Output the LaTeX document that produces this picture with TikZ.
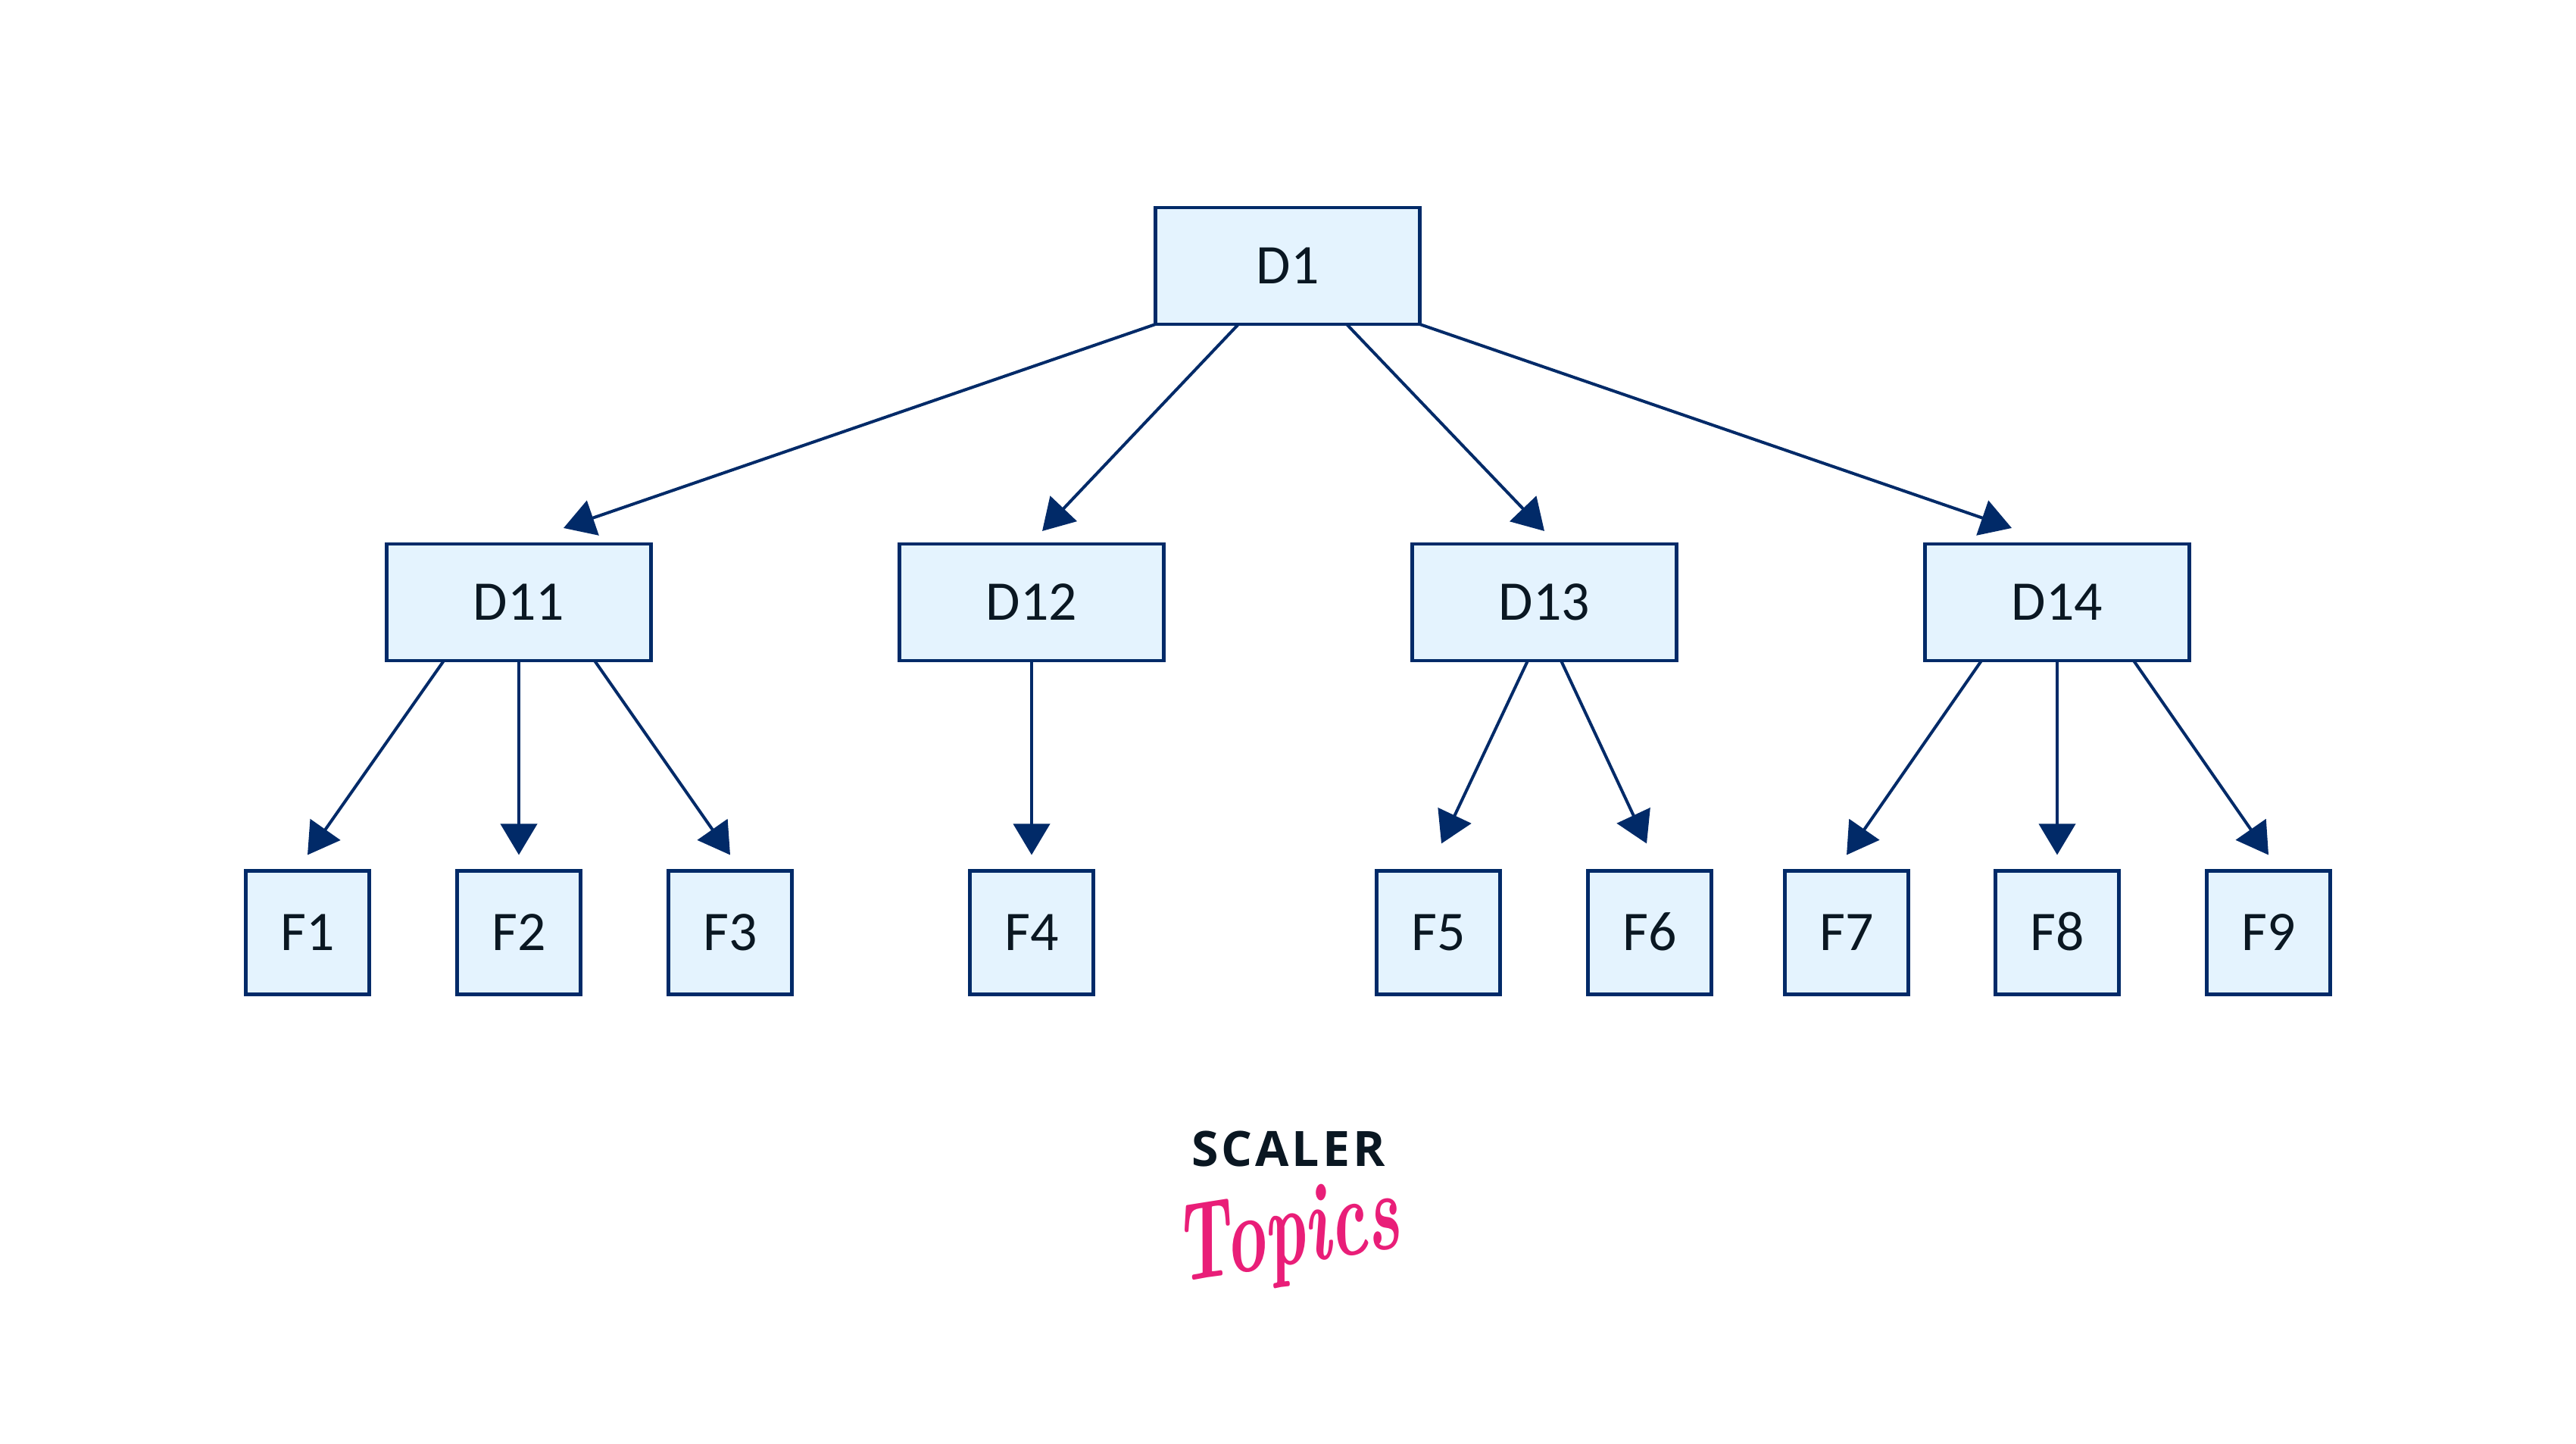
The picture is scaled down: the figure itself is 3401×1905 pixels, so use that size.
\documentclass[tikz,border=0pt]{standalone}
\usepackage{fontspec}
\setmainfont{Carlito}
\newfontfamily\scalerfont[LetterSpace=6]{Open Sans}
\newfontfamily\topicsfont{Latin Modern Roman}
\usetikzlibrary{calc,arrows.meta}
\definecolor{boxblue}{HTML}{E4F3FE}
\definecolor{linenavy}{HTML}{012A68}
\definecolor{inkdark}{HTML}{0A1722}
\definecolor{logopink}{HTML}{E91E78}
\tikzset{
  dirbox/.style={draw=linenavy, fill=boxblue, line width=0.045cm, outer sep=0pt, inner sep=0pt,
    minimum width=3.49cm, minimum height=1.54cm, text=inkdark, text height=0.46cm, text depth=0pt,
    font=\fontsize{21}{24}\selectfont},
  filebox/.style={dirbox, minimum width=1.63cm, minimum height=1.63cm},
  edge/.style={draw=linenavy, line width=0.04cm, -{Triangle[length=0.41cm, width=0.48cm]}}
}

\begin{document}
\begin{tikzpicture}[x=0.01cm, y=-0.01cm]
  \useasboundingbox (0,0) rectangle (3401,1905);
  % top box and the four boxes below it
  \node[dirbox] (d1) at (1700,351) {D1};
  \foreach \name/\txt/\cx in {d11/D11/685, d12/D12/1362, d13/D13/2039, d14/D14/2716}
    \node[dirbox] (\name) at (\cx,795) {\txt};
  % bottom row
  \foreach \name/\txt/\cx in {f1/F1/406, f2/F2/685, f3/F3/964, f4/F4/1362, f5/F5/1899,
                              f6/F6/2178, f7/F7/2438, f8/F8/2716, f9/F9/2995}
    \node[filebox] (\name) at (\cx,1231) {\txt};
  % first level: edges leave D1 along its lower side
  \draw[edge] (d1.south west) -- ($(d11.north)+(59,-21)$);
  \draw[edge] ($(d1.south)+(-65,0)$) -- ($(d12.north)+(14,-17)$);
  \draw[edge] ($(d1.south)+(78,0)$) -- ($(d13.north)+(0,-17)$);
  \draw[edge] (d1.south east) -- ($(d14.north)+(-60,-21)$);
  % second level: parent, offset on its lower side, child, tip offset
  \foreach \from/\sx/\to/\tx/\ty in {d11/-99/f1/0/-21, d11/0/f2/0/-21, d11/100/f3/0/-21,
                                     d12/0/f4/0/-21,
                                     d13/-22/f5/4/-36, d13/22/f6/-4/-36,
                                     d14/-100/f7/0/-21, d14/0/f8/0/-21, d14/101/f9/0/-21}
    \draw[edge] ($(\from.south)+(\sx,0)$) -- ($(\to.north)+(\tx,\ty)$);
  % logo
  \node[text=inkdark, font=\scalerfont\bfseries\fontsize{18.3}{20}\selectfont] (scaler) at (1701,1516) {SCALER};
  \node[text=logopink, rotate=9, yscale=1.6, transform shape, font=\topicsfont\bfseries\itshape\fontsize{26}{30}\selectfont] (topics) at (1700,1634) {Topics};
\end{tikzpicture}
\end{document}
